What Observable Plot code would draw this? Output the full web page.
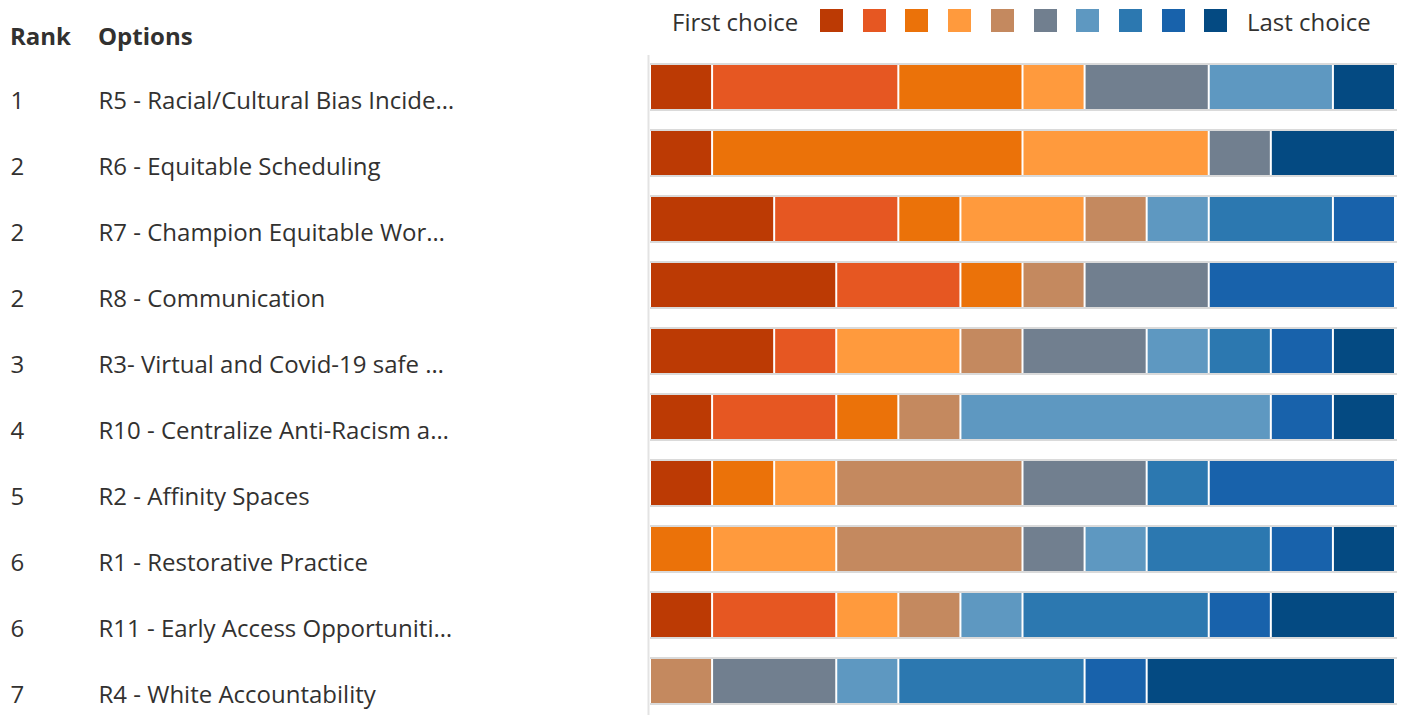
<!DOCTYPE html>
<html>
<head>
<meta charset="utf-8">
<script src="https://cdn.jsdelivr.net/npm/d3@7"></script>
<script src="https://cdn.jsdelivr.net/npm/@observablehq/plot@0.6"></script>
<style>
  html, body { margin: 0; padding: 0; background: #fff; }
  body { width: 1408px; height: 715px; overflow: hidden; font-family: "Open Sans", "Noto Sans", sans-serif; color: #323130; }
  #topbar { position: relative; height: 55px; }
  .hdr { position: absolute; top: 35px; transform: translateY(-50%); font-weight: 700; font-size: 24px; }
  .lg { position: absolute; top: 21px; transform: translateY(-50%); font-size: 24px; white-space: nowrap; }
  .sw { position: absolute; top: 9px; width: 23px; height: 23px; }
  #chart svg { display: block; }
</style>
</head>
<body>
<div id="topbar"></div>
<div id="chart"></div>
<script>
const ranks = [1, 2, 2, 2, 3, 4, 5, 6, 6, 7];
const options = [
  "R5 - Racial/Cultural Bias Incide…",
  "R6 - Equitable Scheduling",
  "R7 - Champion Equitable Wor…",
  "R8 - Communication",
  "R3- Virtual and Covid-19 safe …",
  "R10 - Centralize Anti-Racism a…",
  "R2 - Affinity Spaces",
  "R1 - Restorative Practice",
  "R11 - Early Access Opportuniti…",
  "R4 - White Accountability"
];
const choiceLabels = ["1","2","3","4","5","6","7","8","9","10"];
const colors = ["#BC3A04","#E65722","#EB7209","#FF9A3D","#C4895F","#717F8F","#5E98C1","#2C78B0","#1862AB","#044A82"];
// counts per choice level, one value per option (in the order above)
const choice1  = [1,1,2,3,2,1,1,0,1,0];
const choice2  = [3,0,2,2,1,2,0,0,2,0];
const choice3  = [2,5,1,1,0,1,1,1,0,0];
const choice4  = [1,3,2,0,2,0,1,2,1,0];
const choice5  = [0,0,1,1,1,1,3,3,1,1];
const choice6  = [2,1,0,2,2,0,2,1,0,2];
const choice7  = [2,0,1,0,1,5,0,1,1,1];
const choice8  = [0,0,2,0,1,0,1,2,3,3];
const choice9  = [0,0,1,3,1,1,3,1,1,1];
const choice10 = [1,2,0,0,1,1,0,1,2,4];
const legendFirst = "First choice";
const legendLast = "Last choice";
const headerRank = "Rank";
const headerOptions = "Options";

const choices = [choice1, choice2, choice3, choice4, choice5, choice6, choice7, choice8, choice9, choice10];
const rows = [];
options.forEach((opt, i) => {
  choices.forEach((arr, c) => {
    if (arr[i] > 0) rows.push({option: opt, choice: choiceLabels[c], count: arr[i]});
  });
});
const total = d3.max(options.map((o, i) => d3.sum(choices, a => a[i])));
const labels = options.map((o, i) => ({option: o, rank: ranks[i]}));

// header + legend (HTML, above the SVG)
const topBar = document.getElementById("topbar");
function addDiv(cls, text, left) {
  const d = document.createElement("div");
  d.className = cls; d.textContent = text; d.style.left = left + "px";
  topBar.appendChild(d); return d;
}
addDiv("hdr", headerRank, 10);
addDiv("hdr", headerOptions, 98);
addDiv("lg", legendFirst, 672);
colors.forEach((c, i) => {
  const s = addDiv("sw", "", 820 + i * 42.7);
  s.style.background = c;
});
addDiv("lg", legendLast, 1247);

const chart = Plot.plot({
  width: 1408,
  height: 660,
  marginLeft: 650,
  marginRight: 13,
  marginTop: 10,
  marginBottom: 9,
  style: {fontFamily: '"Open Sans", "Noto Sans", sans-serif', color: "#323130"},
  x: {domain: [0, total], axis: null},
  y: {domain: options, axis: null, paddingInner: 0.337, paddingOuter: 0, align: 0},
  color: {domain: choiceLabels, range: colors},
  marks: [
    Plot.ruleX([0], {stroke: "#e3e3e3", strokeWidth: 2, dx: -2, insetTop: -11, insetBottom: -10}),
    Plot.barX(labels, {x1: 0, x2: total, y: "option", fill: "#dadada", insetTop: -2, insetBottom: -2, insetRight: -2}),
    Plot.barX(labels, {x1: 0, x2: total, y: "option", fill: "#ffffff", insetRight: -2}),
    Plot.barX(rows, Plot.stackX({x: "count", y: "option", fill: "choice", insetLeft: 1, insetRight: 1})),
    Plot.text(labels, {y: "option", text: d => String(d.rank), frameAnchor: "left", dx: -640, dy: 14, textAnchor: "start", fontSize: 24, fill: "#323130"}),
    Plot.text(labels, {y: "option", text: "option", frameAnchor: "left", dx: -552, dy: 14, textAnchor: "start", fontSize: 24, fill: "#323130"})
  ]
});
document.getElementById("chart").appendChild(chart);
</script>
</body>
</html>
